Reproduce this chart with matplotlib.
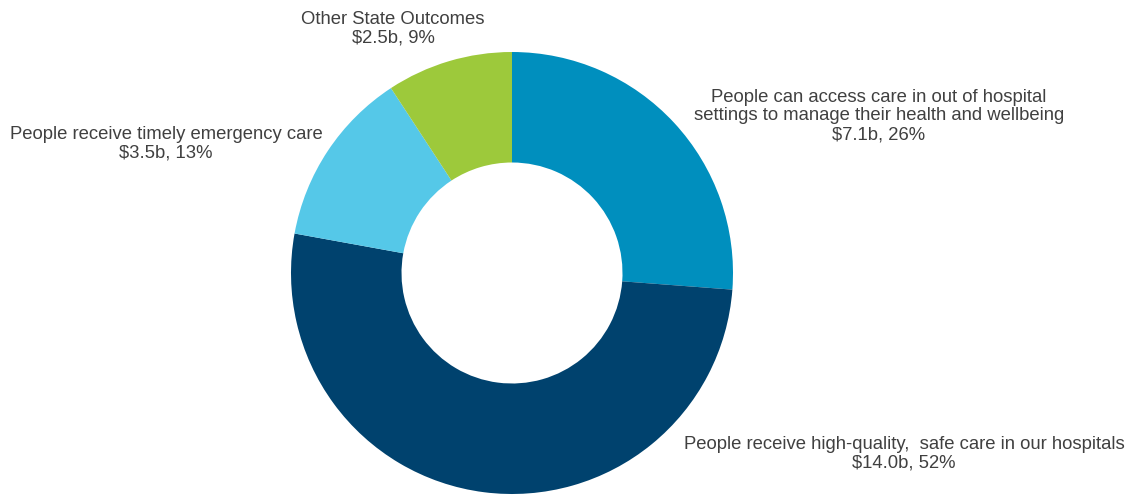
import matplotlib.pyplot as plt

# data
outcomes = ["People can access care in out of hospital\nsettings to manage their health and wellbeing",
            "People receive high-quality,  safe care in our hospitals",
            "People receive timely emergency care",
            "Other State Outcomes"]
funding = [7.1, 14.0, 3.5, 2.5]     # $ billions
shares = [26, 52, 13, 9]            # per cent
colours = ["#008fbe", "#00426e", "#55c8e8", "#9dc93b"]

plt.rcParams['font.family'] = ['Liberation Sans', 'DejaVu Sans']

fig = plt.figure(figsize=(11.36, 4.96), dpi=100)
W, H = 1136, 496
cx, cy, r = 512, 273, 221
ax = fig.add_axes([(cx - r) / W, (H - cy - r) / H, 2 * r / W, 2 * r / H])
ax.pie(funding, colors=colours, startangle=90, counterclock=False,
       radius=1, wedgeprops=dict(width=0.5, edgecolor='none'))
ax.set_xlim(-1, 1)
ax.set_ylim(-1, 1)
ax.set_aspect('equal')
ax.axis('off')

# label positions (pixel centres of the text block)
label_pos = [(879, 116), (904, 454), (166, 144), (393, 29)]
for name, val, pct, (px, py) in zip(outcomes, funding, shares, label_pos):
    fig.text(px / W, 1 - py / H, f"{name}\n${val:.1f}b, {pct}%",
             ha='center', va='center', fontsize=13.3, color='#404040',
             linespacing=1.12)

fig.savefig("out.png", dpi=100)
